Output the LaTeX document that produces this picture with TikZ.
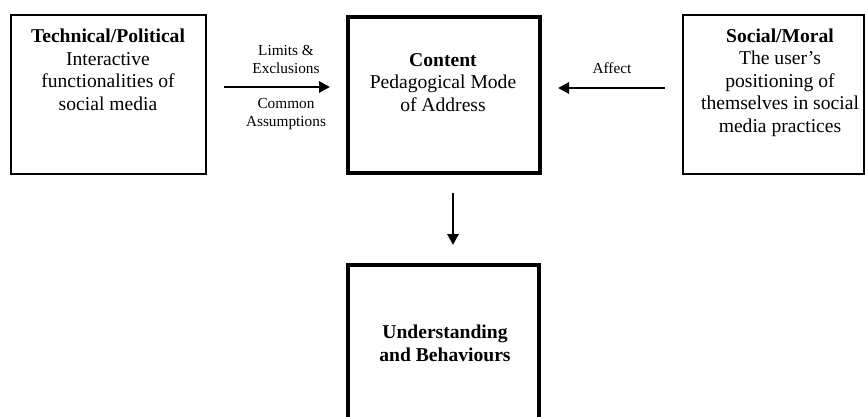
\documentclass[tikz,border=0pt]{standalone}
\usepackage{fontspec}
\setmainfont{Liberation Serif}
\usetikzlibrary{arrows.meta}
\begin{document}
\begin{tikzpicture}[x=1pt,y=-1pt,
  thinbox/.style={draw,line width=1.6pt,inner sep=0pt},
  thickbox/.style={draw,line width=4pt,inner sep=0pt},
  maintext/.style={align=center,font=\fontsize{19.6}{22.5}\selectfont,inner sep=0pt},
  smalltext/.style={align=center,font=\fontsize{15.3}{18}\selectfont,inner sep=0pt},
  conn/.style={line width=2.8pt,-{Triangle[length=11pt,width=11pt]}}]
\useasboundingbox (0,0) rectangle (865,416);
\clip (0,0) rectangle (865,416);
% boxes
\node[thinbox,minimum width=195pt,minimum height=159pt] (tp) at (108.5,94.5) {};
\node[thickbox,minimum width=192pt,minimum height=156pt] (ct) at (444,95) {};
\node[thinbox,minimum width=181pt,minimum height=159pt] (sm) at (773.5,94.5) {};
\node[thickbox,minimum width=191pt,minimum height=160pt] (ub) at (443.5,345) {};
% texts (anchor=base is the baseline of the last line)
\node[maintext,anchor=base] (tpt) at (108,110) {\textbf{Technical/Political}\\Interactive\\functionalities of\\social media};
\node[maintext,anchor=base] (ctt) at (443,111) {\textbf{Content}\\Pedagogical Mode\\of Address};
\node[maintext,anchor=base] (smt) at (780,132) {\textbf{Social/Moral}\\The user’s\\positioning of\\themselves in social\\media practices};
\node[maintext,anchor=base] (ubt) at (445,361) {\textbf{Understanding}\\\textbf{and Behaviours}};
% connectors
\draw[conn,shorten <=17pt,shorten >=16pt] (tp.east |- 0,87) coordinate (a1) -- (ct.west |- 0,87) coordinate (a2);
\draw[conn,shorten <=17pt,shorten >=16pt] (sm.west |- 0,88) coordinate (b1) -- (ct.east |- 0,88) coordinate (b2);
\draw[conn,shorten <=18pt,shorten >=18pt] (ct.south -| 453,0) coordinate (c1) -- (ub.north -| 453,0) coordinate (c2);
% labels
\node[smalltext,anchor=base] (l1) at (286,73) {Limits \&\\Exclusions};
\node[smalltext,anchor=base] (l2) at (286,126) {Common\\Assumptions};
\node[smalltext,anchor=base] (l3) at (612,73) {Affect};
\end{tikzpicture}
\end{document}
